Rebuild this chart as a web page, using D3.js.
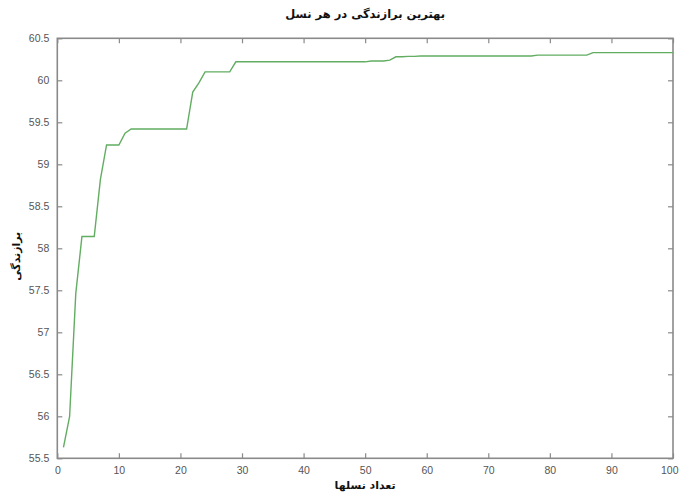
<!DOCTYPE html>
<html><head><meta charset="utf-8">
<script src="https://cdn.jsdelivr.net/npm/d3@7/dist/d3.min.js"></script>
<style>
html,body{margin:0;padding:0;background:#fff;}
svg{display:block;font-family:"Liberation Sans",Arial,sans-serif;}
</style></head>
<body>
<svg id="chart" width="679" height="493"></svg>
<script>
const titleText = "بهترین برازندگی در هر نسل";
const xLabelText = "تعداد نسلها";
const yLabelText = "برازندگی";
const generations = d3.range(1, 101);
const fitness = [
  55.63, 56.00, 57.46, 58.14, 58.14, 58.14, 58.82, 59.23, 59.23, 59.23,
  59.37, 59.42, 59.42, 59.42, 59.42, 59.42, 59.42, 59.42, 59.42, 59.42,
  59.42, 59.86, 59.97, 60.10, 60.10, 60.10, 60.10, 60.10, 60.22, 60.22,
  60.22, 60.22, 60.22, 60.22, 60.22, 60.22, 60.22, 60.22, 60.22, 60.22,
  60.22, 60.22, 60.22, 60.22, 60.22, 60.22, 60.22, 60.22, 60.22, 60.22,
  60.23, 60.23, 60.23, 60.24, 60.28, 60.28, 60.285, 60.285, 60.29, 60.29,
  60.29, 60.29, 60.29, 60.29, 60.29, 60.29, 60.29, 60.29, 60.29, 60.29,
  60.29, 60.29, 60.29, 60.29, 60.29, 60.29, 60.29, 60.30, 60.30, 60.30,
  60.30, 60.30, 60.30, 60.30, 60.30, 60.30, 60.33, 60.33, 60.33, 60.33,
  60.33, 60.33, 60.33, 60.33, 60.33, 60.33, 60.33, 60.33, 60.33, 60.33
];
const xTicks = [0,10,20,30,40,50,60,70,80,90,100];
const yTicks = [55.5,56,56.5,57,57.5,58,58.5,59,59.5,60,60.5];

const svg = d3.select("#chart");
const L = 57.3, R = 673, T = 38.3, B = 458.3;
const x = d3.scaleLinear().domain([0,100]).range([L,R]);
const y = d3.scaleLinear().domain([55.5,60.5]).range([B,T]);
const axisColor = "#8a8a8a", textColor = "#555";

// box
svg.append("rect").attr("x",L).attr("y",T).attr("width",R-L).attr("height",B-T)
  .attr("fill","none").attr("stroke",axisColor).attr("stroke-width",1.6);

// axes with inward ticks
const fmt = d => String(d);
const gx = svg.append("g").attr("transform",`translate(0,${B})`)
  .call(d3.axisBottom(x).tickValues(xTicks).tickSizeInner(-5).tickSizeOuter(0).tickPadding(8).tickFormat(fmt));
const gxt = svg.append("g").attr("transform",`translate(0,${T})`)
  .call(d3.axisTop(x).tickValues(xTicks).tickSizeInner(-5).tickSizeOuter(0).tickFormat(""));
const gy = svg.append("g").attr("transform",`translate(${L},0)`)
  .call(d3.axisLeft(y).tickValues(yTicks).tickSizeInner(-5).tickSizeOuter(0).tickPadding(8).tickFormat(fmt));
const gyr = svg.append("g").attr("transform",`translate(${R},0)`)
  .call(d3.axisRight(y).tickValues(yTicks).tickSizeInner(-5).tickSizeOuter(0).tickFormat(""));
[gx,gxt,gy,gyr].forEach(g=>{
  g.select(".domain").remove();
  g.selectAll(".tick line").attr("stroke",axisColor).attr("stroke-width",1.2);
  g.selectAll(".tick text").attr("fill",textColor).attr("font-size",10.5)
    .attr("font-family","'Liberation Sans',Arial,sans-serif");
});
gy.selectAll(".tick text").attr("dy","0.32em");
// keep the last x label inside the page
gx.selectAll(".tick text").filter(d => d === 100).attr("text-anchor","end").attr("dx", 678 - R);

// line
svg.append("path").datum(generations.map((g,i)=>[g,fitness[i]]))
  .attr("fill","none").attr("stroke","#62ad62").attr("stroke-width",1.4)
  .attr("d", d3.line().x(d=>x(d[0])).y(d=>y(d[1])));

// title & labels
svg.append("text").attr("x",(L+R)/2).attr("y",18).attr("text-anchor","middle")
  .attr("font-size",11.5).attr("font-weight","bold").attr("fill","#111")
  .attr("font-family","'DejaVu Sans',sans-serif").attr("direction","rtl").text(titleText);
svg.append("text").attr("x",(L+R)/2).attr("y",489).attr("text-anchor","middle")
  .attr("font-size",11).attr("font-weight","bold").attr("fill","#111")
  .attr("font-family","'DejaVu Sans',sans-serif").attr("direction","rtl").text(xLabelText);
svg.append("text").attr("transform",`translate(20,${(T+B)/2+8}) rotate(-90)`).attr("text-anchor","middle")
  .attr("font-size",11).attr("font-weight","bold").attr("fill","#111")
  .attr("font-family","'DejaVu Sans',sans-serif").attr("direction","rtl").text(yLabelText);
</script>
</body></html>
